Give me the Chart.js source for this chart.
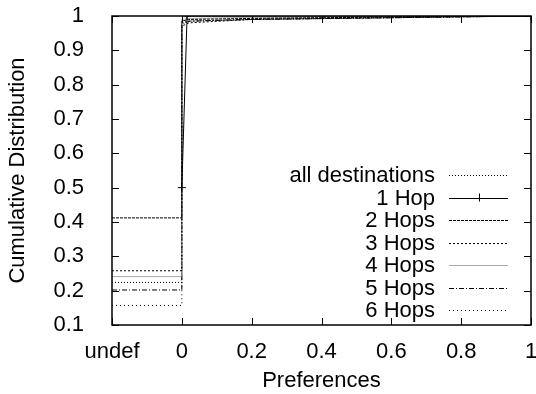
<!DOCTYPE html>
<html>
<head>
<meta charset="utf-8">
<script src="https://cdn.jsdelivr.net/npm/chart.js@4/dist/chart.umd.min.js"></script>
<style>
  html, body { margin: 0; padding: 0; background: #fff; }
  canvas { display: block; }
</style>
</head>
<body>
<canvas id="cdfChart" width="536" height="394"></canvas>
<script>
// x positions of the CDF steps (-0.2 stands for "undef")
const stepX = [-0.2, 0, 0, 0.02, 0.2, 0.6, 1];
const allDestinations = [0.224, 0.224, 0.98, 0.985, 0.99, 0.995, 1];
const hops2 = [0.412, 0.412, 0.985, 0.99, 0.993, 0.997, 1];
const hops3 = [0.258, 0.258, 0.97, 0.98, 0.99, 0.995, 1];
const hops4 = [0.241, 0.241, 0.99, 0.993, 0.996, 0.998, 1];
const hops5 = [0.202, 0.202, 0.975, 0.985, 0.99, 0.995, 1];
const hops6 = [0.157, 0.157, 0.98, 0.985, 0.99, 0.995, 1];

const hop1X = [0, 0.015, 1];
const hop1Y = [0.5, 1, 1];

const xTicks = [-0.2, 0, 0.2, 0.4, 0.6, 0.8, 1];
const xTickLabels = ['undef', '0', '0.2', '0.4', '0.6', '0.8', '1'];
const yTicks = [0.1, 0.2, 0.3, 0.4, 0.5, 0.6, 0.7, 0.8, 0.9, 1];
const yTickLabels = ['0.1', '0.2', '0.3', '0.4', '0.5', '0.6', '0.7', '0.8', '0.9', '1'];

const FONT = '"Liberation Sans", Arial, sans-serif';
const FONT_SIZE = 22;

const toPoints = (xs, ys) => xs.map((x, i) => ({ x, y: ys[i] }));

const series = (label, ys, color, dash) => ({
    label,
    data: toPoints(stepX, ys),
    borderColor: color,
    borderDash: dash,
    borderWidth: 1,
    pointRadius: 0,
    fill: false,
    tension: 0
});

// gnuplot style frame with inward ticks on all four sides
const framePlugin = {
    id: 'frame',
    afterDatasetsDraw(chart) {
        const { ctx, chartArea: a, scales } = chart;
        ctx.save();
        ctx.strokeStyle = '#000';
        ctx.lineWidth = 1;
        ctx.beginPath();
        xTicks.forEach(v => {
            const px = Math.round(scales.x.getPixelForValue(v)) + 0.5;
            ctx.moveTo(px, a.bottom); ctx.lineTo(px, a.bottom - 7);
            ctx.moveTo(px, a.top); ctx.lineTo(px, a.top + 7);
        });
        yTicks.forEach(v => {
            const py = Math.round(scales.y.getPixelForValue(v)) + 0.5;
            ctx.moveTo(a.left, py); ctx.lineTo(a.left + 7, py);
            ctx.moveTo(a.right, py); ctx.lineTo(a.right - 7, py);
        });
        ctx.stroke();
        ctx.lineWidth = 1.5;
        ctx.strokeRect(a.left, a.top, a.right - a.left, a.bottom - a.top);
        ctx.restore();
    }
};

// legend drawn like gnuplot: right aligned text, line sample on the right
const keyPlugin = {
    id: 'key',
    afterDraw(chart) {
        const { ctx } = chart;
        const textRight = 435, sampleL = 449, sampleR = 508;
        const top = 175, rowH = 22.5;
        ctx.save();
        ctx.font = FONT_SIZE + 'px ' + FONT;
        ctx.textAlign = 'right';
        ctx.textBaseline = 'middle';
        chart.data.datasets.forEach((ds, i) => {
            const y = top + i * rowH;
            ctx.fillStyle = '#000';
            ctx.fillText(ds.label, textRight, y + 1);
            ctx.strokeStyle = ds.borderColor;
            ctx.lineWidth = ds.borderWidth;
            ctx.setLineDash(ds.borderDash || []);
            ctx.beginPath();
            ctx.moveTo(sampleL, Math.round(y) + 0.5);
            ctx.lineTo(sampleR, Math.round(y) + 0.5);
            ctx.stroke();
            if (ds.pointStyle === 'cross') {
                const cx = (sampleL + sampleR) / 2;
                ctx.setLineDash([]);
                ctx.beginPath();
                ctx.moveTo(cx - 4, Math.round(y) + 0.5); ctx.lineTo(cx + 4, Math.round(y) + 0.5);
                ctx.moveTo(Math.round(cx) + 0.5, y - 4); ctx.lineTo(Math.round(cx) + 0.5, y + 4);
                ctx.stroke();
            }
        });
        ctx.restore();
    }
};

new Chart(document.getElementById('cdfChart').getContext('2d'), {
    type: 'line',
    data: {
        datasets: [
            series('all destinations', allDestinations, '#000', [1, 2]),
            {
                label: '1 Hop',
                data: toPoints(hop1X, hop1Y),
                borderColor: '#000',
                borderWidth: 1,
                pointStyle: 'cross',
                pointRadius: 4,
                pointBorderWidth: 1,
                pointBorderColor: '#000',
                fill: false,
                tension: 0
            },
            series('2 Hops', hops2, '#000', [3, 1]),
            series('3 Hops', hops3, '#000', [2, 2]),
            series('4 Hops', hops4, '#aaa', []),
            series('5 Hops', hops5, '#000', [5, 2, 1, 2]),
            series('6 Hops', hops6, '#000', [1, 3])
        ]
    },
    options: {
        responsive: false,
        animation: false,
        layout: { padding: { top: 16, right: 2, left: 0, bottom: 0 } },
        plugins: {
            legend: { display: false },
            tooltip: { enabled: false }
        },
        scales: {
            x: {
                type: 'linear',
                min: -0.2,
                max: 1,
                afterBuildTicks: (scale) => { scale.ticks = xTicks.map(v => ({ value: v })); },
                afterFit: (scale) => {
                    scale.height = 69;
                    scale.paddingLeft = 0;
                    scale.paddingRight = 0;
                },
                grid: { display: false, drawTicks: false },
                border: { display: false },
                ticks: {
                    padding: 14,
                    color: '#000',
                    font: { family: FONT, size: FONT_SIZE },
                    maxRotation: 0,
                    autoSkip: false,
                    callback: (v) => xTickLabels[xTicks.findIndex(t => Math.abs(t - v) < 1e-9)]
                },
                title: {
                    display: true,
                    text: 'Preferences',
                    color: '#000',
                    font: { family: FONT, size: FONT_SIZE },
                    padding: { top: 0, bottom: 0 }
                }
            },
            y: {
                type: 'linear',
                min: 0.1,
                max: 1,
                afterBuildTicks: (scale) => { scale.ticks = yTicks.map(v => ({ value: v })); },
                afterFit: (scale) => {
                    scale.width = 112;
                    scale.paddingTop = 0;
                    scale.paddingBottom = 0;
                },
                grid: { display: false, drawTicks: false },
                border: { display: false },
                ticks: {
                    padding: 28,
                    color: '#000',
                    font: { family: FONT, size: FONT_SIZE },
                    autoSkip: false,
                    callback: (v) => yTickLabels[yTicks.findIndex(t => Math.abs(t - v) < 1e-9)]
                },
                title: {
                    display: true,
                    text: 'Cumulative Distribution',
                    color: '#000',
                    font: { family: FONT, size: FONT_SIZE },
                    padding: { top: 5, bottom: 0 }
                }
            }
        }
    },
    plugins: [framePlugin, keyPlugin]
});
</script>
</body>
</html>
